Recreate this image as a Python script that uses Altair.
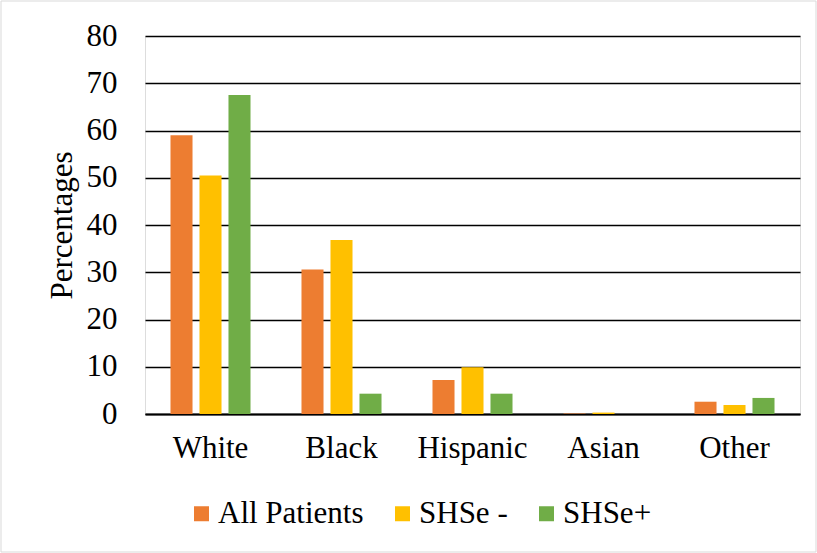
import altair as alt
import pandas as pd

categories = ["White", "Black", "Hispanic", "Asian", "Other"]
series = ["All Patients", "SHSe -", "SHSe+"]
all_patients = [59.0, 30.6, 7.2, 0.1, 2.6]
shse_neg = [50.5, 36.8, 9.9, 0.3, 1.9]
shse_pos = [67.5, 4.3, 4.3, 0.0, 3.4]
colors = ["#ED7D31", "#FFC000", "#70AD47"]

rows = []
for s, vals in zip(series, [all_patients, shse_neg, shse_pos]):
    for c, v in zip(categories, vals):
        rows.append({"category": c, "series": s, "value": v})
df = pd.DataFrame(rows)

FONT = "Liberation Serif"
FS = 31

bars = alt.Chart(df).mark_bar().encode(
    x=alt.X("category:N", sort=categories, title=None,
            scale=alt.Scale(paddingInner=0.336, paddingOuter=0.168),
            axis=alt.Axis(labelAngle=0, labelFont=FONT, labelFontSize=FS,
                          labelColor="black", labelPadding=19, ticks=False,
                          domainColor="black", domainWidth=2, grid=False)),
    xOffset=alt.XOffset("series:N", sort=series,
                        scale=alt.Scale(paddingInner=0.24, paddingOuter=0.12)),
    y=alt.Y("value:Q", title="Percentages",
            scale=alt.Scale(domain=[0, 80]),
            axis=alt.Axis(values=list(range(0, 81, 10)), labelFont=FONT,
                          labelFontSize=FS, labelColor="black", labelPadding=28,
                          ticks=False, domain=False, gridColor="black",
                          gridWidth=1.5, titleFont=FONT, titleFontSize=FS,
                          titleFontWeight="normal", titleColor="black",
                          titlePadding=8)),
    color=alt.Color("series:N", sort=series,
                    scale=alt.Scale(domain=series, range=colors),
                    legend=alt.Legend(title=None, orient="none", direction="horizontal",
                                      legendX=41, legendY=462,
                                      symbolType="square", symbolSize=225,
                                      symbolStrokeWidth=0,
                                      labelFont=FONT, labelFontSize=FS,
                                      labelColor="black", labelOffset=1,
                                      columnPadding=23)),
)

frame = alt.Chart(pd.DataFrame({"a": [0]})).mark_rect(
    fill=None, stroke="#D9D9D9", strokeWidth=1
).encode(
    x=alt.value(-144), x2=alt.value(671), y=alt.value(-35), y2=alt.value(516)
)

chart = alt.layer(bars, frame).properties(
    width=655, height=378,
    padding={"left": 145, "top": 36, "right": 17, "bottom": 139},
    autosize=alt.AutoSizeParams(type="none"),
).configure_view(stroke=None).configure(background="white")

chart.save("out.html", embed_options={"renderer": "svg", "actions": False})
